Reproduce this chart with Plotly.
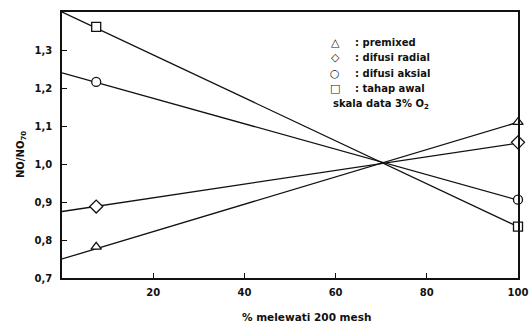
import plotly.graph_objects as go

# Data
line_x = [0, 100]
premixed_line = [0.75, 1.11]
radial_line = [0.875, 1.055]
aksial_line = [1.24, 0.905]
awal_line = [1.40, 0.835]

marker_x = [7.5, 100]
premixed_pts = [0.782, 1.11]
radial_pts = [0.888, 1.057]
aksial_pts = [1.216, 0.906]
awal_pts = [1.361, 0.835]

x_ticks = [20, 40, 60, 80, 100]
y_ticks = [0.7, 0.8, 0.9, 1.0, 1.1, 1.2, 1.3]

series = [
    ("premixed", premixed_line, premixed_pts, "triangle-up", "△"),
    ("difusi radial", radial_line, radial_pts, "diamond", "◇"),
    ("difusi aksial", aksial_line, aksial_pts, "circle", "○"),
    ("tahap awal", awal_line, awal_pts, "square", "□"),
]

FONT = "DejaVu Sans"
TXT = dict(family=FONT, size=10, color="#111", weight="bold")

W, H = 532, 325
PL, PR, PT, PB = 62, 518, 12, 278  # plot area in pixels

def px(v):
    return (v - PL) / (PR - PL)

def py(v):
    return (PB - v) / (PB - PT)

fig = go.Figure()
for name, ln, pts, sym, _ in series:
    fig.add_trace(go.Scatter(x=line_x, y=ln, mode="lines",
                             line=dict(color="#111", width=1.3),
                             showlegend=False, hoverinfo="skip"))
for name, ln, pts, sym, _ in series:
    fig.add_trace(go.Scatter(x=marker_x, y=pts, mode="markers", name=name,
                             marker=dict(symbol=sym, size=9 if sym != "diamond" else 10,
                                         color="white",
                                         line=dict(color="#111", width=1.3)),
                             showlegend=False, cliponaxis=False))

# legend as text annotations
row_y = [42, 57.5, 73, 88.5]
for (name, ln, pts, sym, glyph), yy in zip(series, row_y):
    fig.add_annotation(xref="paper", yref="paper", x=px(335), y=py(yy),
                       text=glyph, showarrow=False, xanchor="center", yanchor="middle",
                       font=dict(family=FONT, size=11, color="#111"))
    fig.add_annotation(xref="paper", yref="paper", x=px(353), y=py(yy),
                       text=": " + name, showarrow=False, xanchor="left", yanchor="middle",
                       font=TXT)
fig.add_annotation(xref="paper", yref="paper", x=px(331), y=py(104),
                   text="skala data 3% O<sub>2</sub>", showarrow=False, xanchor="left",
                   yanchor="middle", font=TXT)

# axis titles
fig.add_annotation(xref="paper", yref="paper", x=px(306), y=py(317),
                   text="% melewati 200 mesh", showarrow=False, xanchor="center",
                   yanchor="middle", font=dict(family=FONT, size=10.5, color="#111",
                                               weight="bold"))
fig.add_annotation(xref="paper", yref="paper", x=px(21), y=py(155),
                   text="NO/NO<sub>70</sub>", showarrow=False, textangle=-90,
                   xanchor="center", yanchor="middle", font=TXT)

fig.update_layout(
    width=W, height=H,
    margin=dict(l=PL, r=W - PR, t=PT, b=H - PB),
    paper_bgcolor="white", plot_bgcolor="white",
    separators=",.",
    showlegend=False,
    font=dict(family=FONT, size=10, color="#111"),
)
fig.update_xaxes(range=[0, 100], tickvals=x_ticks, ticks="inside", ticklen=5,
                 tickwidth=1.2, tickcolor="#111", showline=True, linecolor="#111",
                 linewidth=1.5, mirror=True, showgrid=False, zeroline=False,
                 automargin=False, ticklabelstandoff=4, tickfont=TXT)
fig.update_yaxes(range=[0.7, 1.4], tickvals=y_ticks, tickformat=".1f", ticks="inside",
                 ticklen=5, tickwidth=1.2, tickcolor="#111", showline=True,
                 linecolor="#111", linewidth=1.5, mirror=True, showgrid=False,
                 zeroline=False, automargin=False, ticklabelstandoff=6, tickfont=TXT)

fig.write_html("out.html",
               config={"displayModeBar": False},
               post_script="document.body.style.margin='0';"
                           "document.body.style.overflow='hidden';")
